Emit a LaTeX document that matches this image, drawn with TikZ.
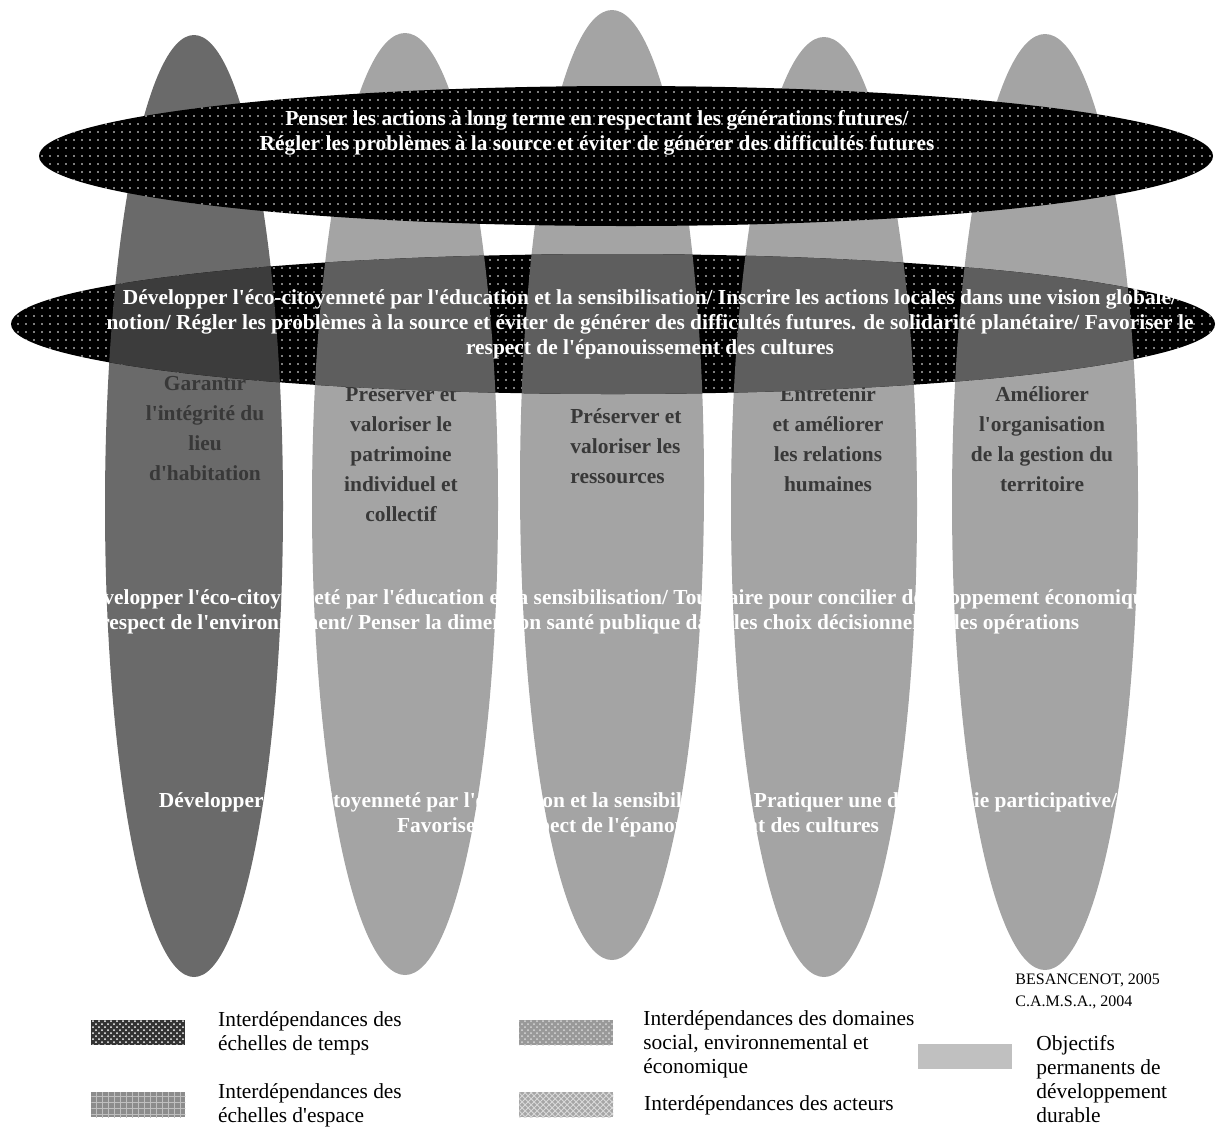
\documentclass[tikz,border=0pt]{standalone}
\usepackage{fontspec}
\setmainfont{Liberation Serif}[Ligatures=TeXOff]
\usepackage{tikz}
\usetikzlibrary{shapes,patterns,positioning}

\definecolor{griscol}{HTML}{A4A4A4}
\definecolor{griscolfonce}{HTML}{6A6A6A}
\definecolor{grisrecouvre}{HTML}{5E5E5E}
\definecolor{grisrecouvrefonce}{HTML}{3C3C3C}
\definecolor{encre}{HTML}{383838}
\definecolor{grislegende}{HTML}{C0C0C0}

\pgfdeclarepatternformonly{pointsblancs}{\pgfqpoint{-1pt}{-1pt}}{\pgfqpoint{3pt}{3pt}}{\pgfqpoint{4pt}{4pt}}{\pgfpathcircle{\pgfqpoint{1pt}{1pt}}{0.45pt}\pgfusepath{fill}}

\begin{document}
\begin{tikzpicture}[x=0.5pt, y=-0.5pt,
	temps/.style={fill=black, postaction={pattern=pointsblancs, pattern color=white}},
	colonne/.style={fill=griscol},
	colonnefonce/.style={fill=griscolfonce},
	objectif/.style={font=\fontsize{10.7}{15}\selectfont\bfseries, text=encre, align=center, inner sep=0pt},
	blanc/.style={font=\fontsize{10.7}{12.5}\selectfont\bfseries, text=white, align=center, inner sep=0pt},
	legende/.style={font=\fontsize{10.7}{12}\selectfont, align=left, anchor=west, inner sep=0pt},
	case/.style={minimum width=47pt, minimum height=12.5pt, inner sep=0pt, anchor=north west}
	]
	\useasboundingbox (0,0) rectangle (1218,1126);
	
	% colonnes : objectifs permanents
	\fill[colonnefonce] (194,506) ellipse [x radius=89, y radius=471];
	\fill[colonne] (405,504) ellipse [x radius=93, y radius=471];
	\fill[colonne] (612,485) ellipse [x radius=92, y radius=475];
	\fill[colonne] (824,507) ellipse [x radius=93, y radius=470];
	\fill[colonne] (1045,502) ellipse [x radius=93, y radius=468];
	
	\node[objectif] (obj1) at (205,428) {Garantir\\l'intégrité du\\lieu\\d'habitation};
	\node[objectif] (obj2) at (401,454) {Préserver et\\valoriser le\\patrimoine\\individuel et\\collectif};
	\node[objectif, align=left, anchor=west] (obj3) at (570,446) {Préserver et\\valoriser les\\ressources};
	\node[objectif] (obj4) at (828,439) {Entretenir\\et améliorer\\les relations\\humaines};
	\node[objectif] (obj5) at (1042,439) {Améliorer\\l'organisation\\de la gestion du\\territoire};
	
	% echelles d'espace
	\fill[temps] (613,324) ellipse [x radius=602, y radius=70];
	\begin{scope}
		\clip (613,324) ellipse [x radius=602, y radius=70];
		\fill[grisrecouvrefonce] (194,506) ellipse [x radius=89, y radius=471];
		\fill[grisrecouvre] (405,504) ellipse [x radius=93, y radius=471];
		\fill[grisrecouvre] (612,485) ellipse [x radius=92, y radius=475];
		\fill[grisrecouvre] (824,507) ellipse [x radius=93, y radius=470];
		\fill[grisrecouvre] (1045,502) ellipse [x radius=93, y radius=468];
	\end{scope}
	\node[blanc] (espace) at (650,324) {Développer l'éco-citoyenneté par l'éducation et la sensibilisation/ Inscrire les actions locales dans une vision globale/\\notion/ Régler les problèmes à la source et éviter de générer des difficultés futures. de solidarité planétaire/ Favoriser le\\respect de l'épanouissement des cultures};
	
	% echelles de temps
	\fill[temps] (626,156) ellipse [x radius=587, y radius=70];
	\node[blanc] (temps) at (597,133) {Penser les actions à long terme en respectant les générations futures/\\Régler les problèmes à la source et éviter de générer des difficultés futures};
	
	% domaines et acteurs
	\node[blanc, align=left, anchor=west] (domaines) at (78,612) {Développer l'éco-citoyenneté par l'éducation et la sensibilisation/ Tout faire pour concilier développement économique\\et respect de l'environnement/ Penser la dimension santé publique dans les choix décisionnels et les opérations};
	\node[blanc] (acteurs) at (638,815) {Développer l'éco-citoyenneté par l'éducation et la sensibilisation/ Pratiquer une démocratie participative/\\Favoriser le respect de l'épanouissement des cultures};
	
	\node[font=\fontsize{8}{11}\selectfont, align=left, anchor=west, inner sep=0pt] (source) at (1015,991) {BESANCENOT, 2005\\C.A.M.S.A., 2004};
	
	% legende
	\node[case, fill=black!80, postaction={pattern=crosshatch dots, pattern color=white}] (l1) at (91,1020) {};
	\node[legende, right=16pt of l1] (t1) {Interdépendances des\\échelles de temps};
	\node[case, fill=black!45, postaction={pattern=grid, pattern color=white!75!black}] (l2) at (91,1092) {};
	\node[legende, right=16pt of l2] (t2) {Interdépendances des\\échelles d'espace};
	\node[case, fill=black!40, postaction={pattern=crosshatch dots, pattern color=white!85!black}] (l3) at (519,1020) {};
	\node[legende, anchor=north west] (t3) at (643,1010) {Interdépendances des domaines\\social, environnemental et\\économique};
	\node[case, fill=black!35, postaction={pattern=crosshatch, pattern color=white!85!black}] (l4) at (519,1092) {};
	\node[legende, right=15pt of l4] (t4) {Interdépendances des acteurs};
	\node[case, fill=grislegende] (l5) at (918,1044) {};
	\node[legende] (t5) at (1036,1079) {Objectifs\\permanents de\\développement\\durable};
\end{tikzpicture}
\end{document}
